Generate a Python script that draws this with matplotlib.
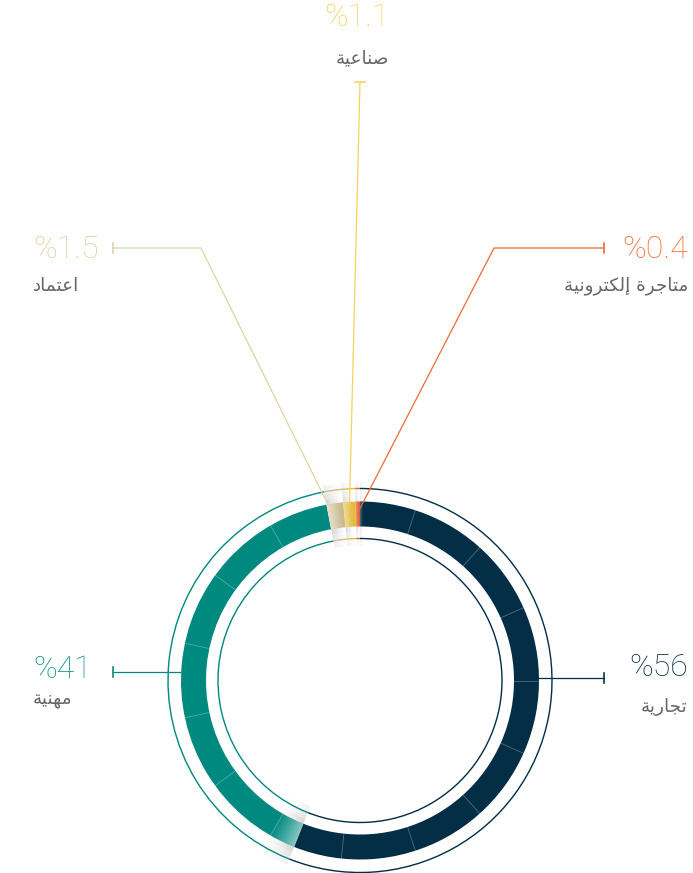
import numpy as np
import matplotlib
matplotlib.use("Agg")
import matplotlib.pyplot as plt
from matplotlib.patches import Wedge

# licence types and their share, clockwise from 12 o'clock
names = ["تجارية", "مهنية", "اعتماد", "صناعية", "متاجرة إلكترونية"]
shares = [56, 41, 1.5, 1.1, 0.4]
value_labels = ["%56", "%41", "%1.5", "%1.1", "%0.4"]

band_colors = ["#032e46", "#00897f", "#c9b98d", "#e3bd40", "#e0612b"]
line_colors = ["#032e46", "#00897f", "#e0d3a6", "#f6d35c", "#ef6a32"]
text_colors = ["#0d3047", "#14918a", "#e0d1a2", "#f8d35c", "#ef6d35"]
name_color = "#666666"

# arabic presentation forms: isolated, final, initial, medial
FORMS = {
    'ا': ('\ufe8d', '\ufe8e', None, None),
    'إ': ('\ufe87', '\ufe88', None, None),
    'ة': ('\ufe93', '\ufe94', None, None),
    'ت': ('\ufe95', '\ufe96', '\ufe97', '\ufe98'),
    'ج': ('\ufe9d', '\ufe9e', '\ufe9f', '\ufea0'),
    'د': ('\ufea9', '\ufeaa', None, None),
    'ر': ('\ufead', '\ufeae', None, None),
    'ص': ('\ufeb9', '\ufeba', '\ufebb', '\ufebc'),
    'ع': ('\ufec9', '\ufeca', '\ufecb', '\ufecc'),
    'ك': ('\ufed9', '\ufeda', '\ufedb', '\ufedc'),
    'ل': ('\ufedd', '\ufede', '\ufedf', '\ufee0'),
    'م': ('\ufee1', '\ufee2', '\ufee3', '\ufee4'),
    'ن': ('\ufee5', '\ufee6', '\ufee7', '\ufee8'),
    'ه': ('\ufee9', '\ufeea', '\ufeeb', '\ufeec'),
    'و': ('\ufeed', '\ufeee', None, None),
    'ي': ('\ufef1', '\ufef2', '\ufef3', '\ufef4'),
}


def shape(text):
    # join letters and flip to visual (right-to-left) order
    out = []
    for i, ch in enumerate(text):
        f = FORMS.get(ch)
        if f is None:
            out.append(ch)
            continue
        prev = text[i - 1] if i > 0 else ''
        nxt = text[i + 1] if i + 1 < len(text) else ''
        jp = prev in FORMS and FORMS[prev][2] is not None
        jn = f[2] is not None and nxt in FORMS
        if jp and jn:
            out.append(f[3])
        elif jp:
            out.append(f[1])
        elif jn:
            out.append(f[2])
        else:
            out.append(f[0])
    return ''.join(reversed(out))


W, H = 693, 873
cx, cy = 360, 680.5
R_RING_OUT, R_BAND_OUT, R_BAND_IN, R_RING_IN = 192, 179, 154, 142

fig = plt.figure(figsize=(W / 100, H / 100), dpi=100)
ax = fig.add_axes([0, 0, 1, 1])
ax.set_xlim(0, W)
ax.set_ylim(H, 0)
ax.set_aspect('equal')
ax.axis('off')


def polar(ang, r):
    # ang: degrees clockwise from top
    a = np.radians(ang)
    return cx + r * np.sin(a), cy - r * np.cos(a)


def arc(a0, a1, r_out, width, color, alpha=1.0, z=2):
    ax.add_patch(Wedge((cx, cy), r_out, a0 - 90, a1 - 90, width=width,
                       facecolor=color, edgecolor='none', alpha=alpha, zorder=z))


edges = np.concatenate([[0], np.cumsum(shares)]) * 3.6
starts, ends = edges[:-1], edges[1:]

# main band and the two thin rings
for a0, a1, c in zip(starts, ends, band_colors):
    arc(a0, a1, R_BAND_OUT, R_BAND_OUT - R_BAND_IN, c)
    arc(a0, a1, R_RING_OUT + 0.7, 1.4, c, z=5)
    arc(a0, a1, R_RING_IN + 0.7, 1.4, c, z=5)

# faint dividers every 24 degrees
for ang in np.arange(18, 349, 24):
    x0, y0 = polar(ang, R_BAND_IN)
    x1, y1 = polar(ang, R_BAND_OUT)
    ax.plot([x0, x1], [y0, y1], color='white', lw=0.6, alpha=0.3, zorder=3)


# soft shading where each segment starts
def haze(a0, span, strength):
    n = 16
    gaps_in = [(R_BAND_IN, 5), (R_BAND_IN - 5, 6), (R_BAND_IN - 11, 8)]
    gaps_out = [(R_BAND_OUT + 5, 5), (R_BAND_OUT + 11, 6), (R_BAND_OUT + 19, 8)]
    for i in range(n):
        b0 = a0 + span * i / n
        b1 = a0 + span * (i + 1) / n
        k = strength * (1 - i / n) ** 1.2
        arc(b0, b1, R_BAND_OUT, R_BAND_OUT - R_BAND_IN, 'white', 0.6 * k, 4)
        for j, (ro, w) in enumerate(gaps_in + gaps_out):
            arc(b0, b1, ro, w, '#8f8f8f', 0.38 * k * (1 - (j % 3) / 3), 4)


haze(starts[1], 9, 0.9)
haze(starts[2], 5, 1.0)
haze(starts[3], 3, 0.85)
haze(starts[4], 1.3, 0.7)
haze(starts[0], 1.2, 0.5)

# label layout: value position, name position, alignment
num_pos = [(688, 668), (33, 669), (33, 249), (357, 17), (688, 249)]
name_pos = [(688, 707), (33, 700), (33, 286), (362, 58), (688, 286)]
aligns = ['right', 'left', 'left', 'center', 'right']

for i in range(5):
    ax.text(*num_pos[i], value_labels[i], ha=aligns[i], va='center',
            fontsize=23, family=['Roboto', 'DejaVu Sans'], fontweight='light',
            color=text_colors[i], zorder=6)
    ax.text(*name_pos[i], shape(names[i]), ha=aligns[i], va='center',
            fontsize=13.2, family='DejaVu Sans', color=name_color, zorder=6)

lw = 0.9
tick = 5


def vtick(x, y, c):
    ax.plot([x, x], [y - tick, y + tick], color=c, lw=lw * 1.3, zorder=6)


# 56% and 41%: straight horizontal leaders to the band
for i, (x_end, y, side) in enumerate([(604, 678, 1), (113, 672, -1)]):
    xb = cx + side * np.sqrt(R_BAND_OUT ** 2 - (y - cy) ** 2)
    ax.plot([xb, x_end], [y, y], color=line_colors[i], lw=lw, zorder=6)
    vtick(x_end, y, line_colors[i])

# small segments: elbow leaders pointing into the segment
frac = {2: 0.05, 3: 0.5, 4: 0.5}
rad = {2: 181, 3: 176, 4: 168}
elbows = {2: [(113, 248), (201, 248)], 4: [(604, 248), (494, 248)], 3: [(360, 82)]}
for i in (2, 3, 4):
    ang = starts[i] + frac[i] * (ends[i] - starts[i])
    pts = elbows[i] + [polar(ang, rad[i])]
    xs, ys = zip(*pts)
    ax.plot(xs, ys, color=line_colors[i], lw=lw, zorder=6)
    if i == 3:
        ax.plot([355, 365], [82, 82], color=line_colors[i], lw=lw * 1.3, zorder=6)
    else:
        vtick(pts[0][0], pts[0][1], line_colors[i])

fig.savefig("out.png", dpi=100, facecolor='white')
